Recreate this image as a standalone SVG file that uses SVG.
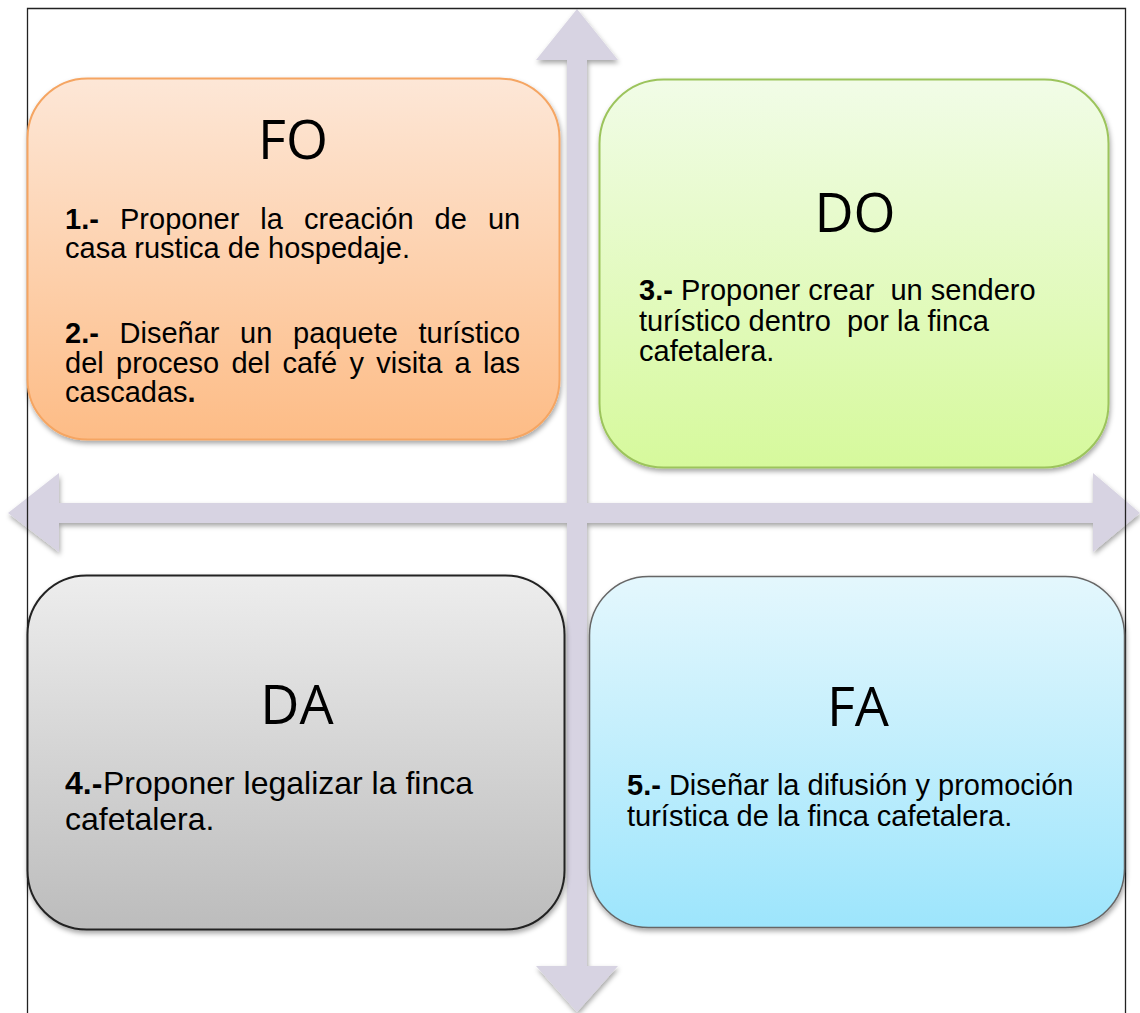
<svg xmlns="http://www.w3.org/2000/svg" width="1140" height="1013" viewBox="0 0 1140 1013">
<defs>
<style>
.title{font-family:"Open Sans","Noto Sans","Liberation Sans",sans-serif;font-size:54px;fill:#000;text-anchor:middle}
.body{font-family:"Liberation Sans",Arial,sans-serif;font-size:29px;fill:#000}
.big{font-size:32px}
.b{font-weight:bold}
</style>
<linearGradient id="gFO" x1="0" y1="0" x2="0" y2="1"><stop offset="0" stop-color="#fde7d7"/><stop offset="1" stop-color="#fdbc86"/></linearGradient>
<linearGradient id="gDO" x1="0" y1="0" x2="0" y2="1"><stop offset="0" stop-color="#f1fce7"/><stop offset="1" stop-color="#d6f99c"/></linearGradient>
<linearGradient id="gDA" x1="0" y1="0" x2="0" y2="1"><stop offset="0" stop-color="#ededed"/><stop offset="1" stop-color="#bcbcbc"/></linearGradient>
<linearGradient id="gFA" x1="0" y1="0" x2="0" y2="1"><stop offset="0" stop-color="#e4f7fd"/><stop offset="1" stop-color="#9de5fc"/></linearGradient>
<filter id="sh" x="-5%" y="-5%" width="110%" height="115%"><feDropShadow dx="1" dy="3" stdDeviation="2.5" flood-color="#000" flood-opacity="0.35"/></filter>
</defs>
<rect width="1140" height="1013" fill="#fff"/>
<g id="connectors">
<polygon filter="url(#sh)" fill="#d7d3e2" points="577,9 618,60 587,60 587,503 1093,503 1093,473 1140,513 1093,552 1093,523 587,523 587,966 618,966 577,1012 536,966 567,966 567,523 59,523 59,552 8,513 59,473 59,503 567,503 567,60 536,60"/>
</g>
<g id="frame" fill="none" stroke="#222" stroke-width="1.3">
<path d="M27.5,1013 V8.5 H1125.5 V1013"/>
</g>
<g id="FO">
<rect x="27.5" y="78.5" width="532" height="361" rx="60" fill="url(#gFO)" stroke="#f5a562" stroke-width="2" filter="url(#sh)"/>
<text class="title" x="293" y="159">FO</text>
<text class="body" y="229"><tspan class="b" x="65">1.-</tspan><tspan x="120">Proponer</tspan><tspan x="260.3">la</tspan><tspan x="304">creación</tspan><tspan x="434.6">de</tspan><tspan x="487.9">un</tspan></text>
<text class="body" x="65" y="258">casa rustica de hospedaje.</text>
<text class="body" y="343"><tspan class="b" x="65">2.-</tspan><tspan x="119.5">Diseñar</tspan><tspan x="240.1">un</tspan><tspan x="293">paquete</tspan><tspan x="418.5">turístico</tspan></text>
<text class="body" y="373"><tspan x="65">del</tspan><tspan x="116">proceso</tspan><tspan x="231.4">del</tspan><tspan x="282.4">café</tspan><tspan x="349.4">y</tspan><tspan x="376.2">visita</tspan><tspan x="454.5">a</tspan><tspan x="483">las</tspan></text>
<text class="body" x="65" y="402">cascadas<tspan class="b">.</tspan></text>
</g>
<g id="DO">
<rect x="599.5" y="79.5" width="509" height="388" rx="64" fill="url(#gDO)" stroke="#9cc45c" stroke-width="2" filter="url(#sh)"/>
<text class="title" x="855" y="232">DO</text>
<text class="body" x="639" y="300" xml:space="preserve"><tspan class="b">3.-</tspan> Proponer crear  un sendero</text>
<text class="body" x="639" y="331" xml:space="preserve">turístico dentro  por la finca</text>
<text class="body" x="639" y="361">cafetalera.</text>
</g>
<g id="DA">
<rect x="27.5" y="575.5" width="537" height="354" rx="59" fill="url(#gDA)" stroke="#222" stroke-width="2" filter="url(#sh)"/>
<text class="title" x="297" y="724">DA</text>
<text class="body big" y="794"><tspan class="b" x="65">4.-</tspan><tspan x="103">Proponer legalizar la finca</tspan></text>
<text class="body big" x="65" y="830">cafetalera.</text>
</g>
<g id="FA">
<rect x="589.5" y="576.5" width="535" height="351" rx="59" fill="url(#gFA)" stroke="#666" stroke-width="1.5" filter="url(#sh)"/>
<text class="title" x="858" y="726">FA</text>
<text class="body" x="627" y="795"><tspan class="b">5.-</tspan> Diseñar la difusión y promoción</text>
<text class="body" x="627" y="826">turística de la finca cafetalera.</text>
</g>
</svg>
